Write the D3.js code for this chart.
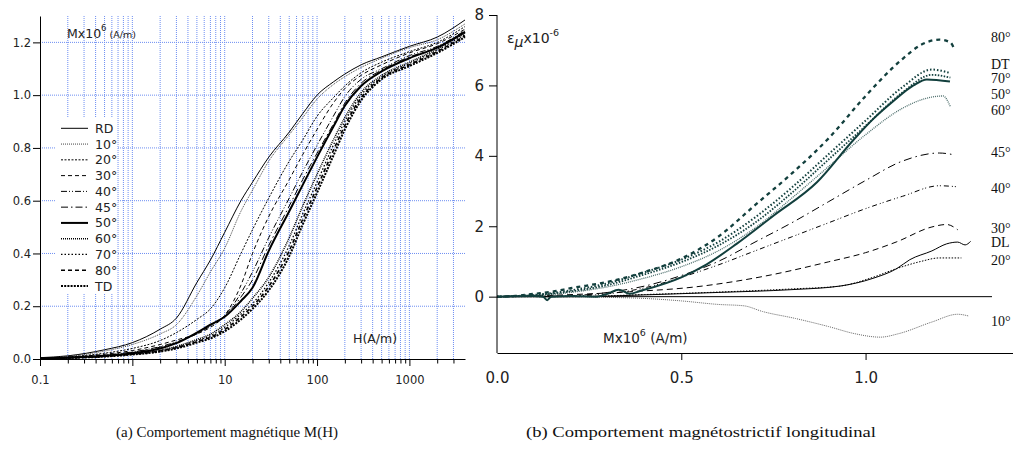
<!DOCTYPE html>
<html><head><meta charset="utf-8">
<script src="https://cdn.jsdelivr.net/npm/d3@7"></script>
<style>body{margin:0;background:#fff} svg{display:block}</style>
</head><body>
<svg id="c" width="1013" height="452"></svg>
<script>
// ---------- Left chart data: M (x10^6 A/m) vs H (A/m) ----------
const hGrid = [0.1,0.2,0.5,1,2,3,5,7,10,15,20,30,50,70,100,150,200,300,500,1000,2000,4000];
const mRD  = [0.005,0.012,0.035,0.062,0.113,0.155,0.29,0.375,0.48,0.6,0.67,0.765,0.86,0.93,1.0,1.05,1.08,1.115,1.145,1.185,1.22,1.285];
const m10  = [0.004,0.01,0.03,0.055,0.095,0.13,0.24,0.33,0.42,0.56,0.64,0.75,0.85,0.915,0.985,1.04,1.07,1.105,1.14,1.18,1.21,1.27];
const m20  = [0.003,0.008,0.022,0.04,0.07,0.1,0.15,0.19,0.27,0.4,0.49,0.61,0.75,0.83,0.92,0.99,1.035,1.085,1.125,1.165,1.2,1.26];
const m30  = [0.003,0.007,0.018,0.032,0.055,0.072,0.095,0.12,0.165,0.28,0.4,0.54,0.68,0.775,0.87,0.97,1.025,1.075,1.115,1.16,1.195,1.25];
const m40  = [0.003,0.006,0.015,0.027,0.047,0.065,0.095,0.125,0.165,0.25,0.33,0.46,0.61,0.71,0.81,0.92,0.995,1.06,1.1,1.15,1.185,1.245];
const m45  = [0.002,0.006,0.014,0.025,0.045,0.062,0.098,0.128,0.162,0.235,0.3,0.43,0.58,0.68,0.78,0.89,0.97,1.045,1.095,1.145,1.18,1.24];
const m50  = [0.002,0.005,0.012,0.022,0.04,0.06,0.1,0.13,0.16,0.22,0.27,0.41,0.56,0.66,0.765,0.88,0.96,1.035,1.09,1.14,1.18,1.24];
const m60  = [0.002,0.005,0.011,0.02,0.034,0.048,0.074,0.094,0.13,0.18,0.23,0.31,0.46,0.58,0.7,0.83,0.915,1.01,1.075,1.125,1.175,1.235];
const m70  = [0.002,0.004,0.01,0.019,0.032,0.045,0.07,0.088,0.12,0.17,0.21,0.29,0.43,0.55,0.67,0.81,0.9,1.0,1.07,1.12,1.17,1.23];
const m80  = [0.002,0.004,0.01,0.018,0.03,0.043,0.066,0.083,0.112,0.16,0.2,0.275,0.41,0.53,0.65,0.79,0.885,0.99,1.065,1.115,1.165,1.225];
const mTD  = [0.002,0.004,0.009,0.017,0.028,0.04,0.062,0.078,0.105,0.15,0.19,0.26,0.39,0.51,0.63,0.77,0.87,0.98,1.06,1.11,1.16,1.22];
const leftNames = ["RD","10°","20°","30°","40°","45°","50°","60°","70°","80°","TD"];
const leftSeries = [mRD,m10,m20,m30,m40,m45,m50,m60,m70,m80,mTD];
const leftYTicks = [0,0.2,0.4,0.6,0.8,1.0,1.2];
const leftXTicks = [0.1,1,10,100,1000];

// ---------- Right chart data: epsilon_mu (x10^-6) vs M (x10^6 A/m) ----------
const r80M = [0,0.05,0.1,0.15,0.2,0.3,0.4,0.5,0.6,0.7,0.8,0.9,1.0,1.1,1.15,1.2,1.23,1.24];
const r80E = [0,0.02,0.08,0.14,0.24,0.42,0.7,1.08,1.7,2.6,3.5,4.5,5.7,6.75,7.15,7.3,7.22,7.05];
const rDTM = [0,0.1,0.2,0.3,0.39,0.5,0.6,0.7,0.8,0.9,1.0,1.1,1.18,1.23];
const rDTE = [0,0.05,0.18,0.38,0.66,1.05,1.55,2.25,3.1,4.05,5.0,5.95,6.45,6.35];
const r70M = [0,0.1,0.2,0.3,0.39,0.5,0.6,0.7,0.8,0.9,1.0,1.1,1.18,1.23];
const r70E = [0,0.04,0.15,0.33,0.6,0.98,1.45,2.1,2.95,3.9,4.85,5.8,6.3,6.22];
const r50M = [0,0.1,0.125,0.136,0.147,0.2,0.27,0.3,0.33,0.36,0.388,0.5,0.569,0.65,0.75,0.868,0.967,1.021,1.075,1.13,1.166,1.229];
const r50E = [0,0.02,0,-0.1,0,0.02,0,0.08,0.2,0.08,0.16,0.55,0.92,1.5,2.3,3.25,4.45,5.05,5.55,6.0,6.17,6.11];
const r60M = [0,0.1,0.2,0.3,0.39,0.5,0.6,0.7,0.8,0.9,1.0,1.1,1.16,1.21,1.23];
const r60E = [0,0.03,0.12,0.28,0.5,0.85,1.3,1.95,2.8,3.7,4.6,5.35,5.62,5.7,5.4];
const r45M = [0,0.2,0.3,0.4,0.5,0.6,0.7,0.8,0.9,1.0,1.1,1.2,1.24];
const r45E = [0,0.03,0.12,0.3,0.6,1.0,1.55,2.1,2.7,3.3,3.85,4.08,4.03];
const r40M = [0,0.2,0.3,0.4,0.5,0.6,0.7,0.8,0.9,1.0,1.1,1.2,1.25];
const r40E = [0,0.02,0.08,0.25,0.55,0.9,1.3,1.7,2.1,2.5,2.85,3.15,3.12];
const r30M = [0,0.18,0.36,0.54,0.72,0.9,1.0,1.085,1.18,1.22,1.25];
const r30E = [0,0.05,0.14,0.28,0.57,0.99,1.25,1.56,1.98,2.05,1.9];
const rDLM = [0,0.2,0.4,0.6,0.8,0.93,1.02,1.085,1.12,1.18,1.22,1.25,1.27,1.285];
const rDLE = [0,0,0.05,0.12,0.2,0.3,0.52,0.8,1.05,1.3,1.5,1.55,1.47,1.57];
const r20M = [0,0.2,0.4,0.6,0.8,0.93,1.02,1.085,1.15,1.2,1.26];
const r20E = [0,0,0.06,0.13,0.22,0.3,0.55,0.8,1.0,1.1,1.1];
const r10M = [0,0.2,0.3,0.4,0.5,0.6,0.67,0.72,0.81,0.9,0.97,1.04,1.09,1.18,1.25,1.28];
const r10E = [0,0,-0.02,-0.05,-0.12,-0.22,-0.26,-0.42,-0.62,-0.85,-1.05,-1.15,-1.05,-0.72,-0.5,-0.55];
const rightLabels = ["80°","DT","70°","50°","60°","45°","40°","30°","DL","20°","10°"];
const rightLabelE = [7.36,6.57,6.18,5.72,5.28,4.07,3.07,1.91,1.52,1.01,-0.72];
const rightYTicks = [0,2,4,6,8];
const rightXTicks = [0,0.5,1.0];
const zeroLineEnd = 1.343;

const captions = ["(a) Comportement magnétique M(H)","(b) Comportement magnétostrictif longitudinal"];

// ---------- drawing ----------
const svg = d3.select("#c");
const SANS = "DejaVu Sans, Verdana, sans-serif";
const SERIF = "Liberation Serif, Times New Roman, serif";
const TEAL = "#123f3d";

// Left chart scales
const xL = d3.scaleLog().domain([0.1, 4000]).range([40, 465]);
const yL = d3.scaleLinear().domain([0, 1.3]).range([359, 16]);

const gL = svg.append("g");
// grid
const gridX = [];
[0.1,1,10,100,1000].forEach(d => { for (let k = 1; k <= 9; k++) { const v = d*k; if (v > 0.1 && v <= 3000.001) gridX.push(v); } });
const gridColor = "#6d8ef2";
gL.selectAll(".gv").data(gridX).join("line")
  .attr("x1", d => xL(d)).attr("x2", d => xL(d))
  .attr("y1", yL(1.3)).attr("y2", yL(0))
  .attr("stroke", gridColor).attr("stroke-width", 1).attr("stroke-dasharray", "1,1");
gL.selectAll(".gh").data(leftYTicks.filter(d => d > 0)).join("line")
  .attr("x1", xL(0.1)).attr("x2", xL(4000))
  .attr("y1", d => yL(d)).attr("y2", d => yL(d))
  .attr("stroke", gridColor).attr("stroke-width", 1).attr("stroke-dasharray", "1,1");

// curves
const leftStyles = [
  {w:1, d:null, c:"#000"},
  {w:1, d:"1,1", c:"#444"},
  {w:1, d:"2,1.5", c:"#000"},
  {w:1, d:"4,3", c:"#000"},
  {w:1, d:"6,2,1,2,1,2", c:"#000"},
  {w:1, d:"7,3,1.5,3", c:"#000"},
  {w:2, d:null, c:"#000"},
  {w:1.5, d:"1,1", c:"#000"},
  {w:1.3, d:"1.5,2", c:"#000"},
  {w:1.6, d:"4,3", c:"#000"},
  {w:2, d:"2,1.2", c:"#000"}
];
const lineL = d3.line().x(d => xL(d[0])).y(d => yL(d[1])).curve(d3.curveMonotoneX);
leftSeries.forEach((ms, i) => {
  const pts = hGrid.map((h, j) => [h, ms[j]]);
  const s = leftStyles[i];
  gL.append("path").attr("d", lineL(pts)).attr("fill", "none")
    .attr("stroke", s.c).attr("stroke-width", s.w)
    .attr("stroke-dasharray", s.d);
});

// legend
gL.append("rect").attr("x", 55).attr("y", 118).attr("width", 62).attr("height", 175).attr("fill", "#fff");
leftNames.forEach((n, i) => {
  const y = 128.3 + i*15.77;
  const s = leftStyles[i];
  gL.append("line").attr("x1", 61).attr("x2", 88).attr("y1", y).attr("y2", y)
    .attr("stroke", s.c).attr("stroke-width", s.w).attr("stroke-dasharray", s.d);
  gL.append("text").attr("x", 95).attr("y", y + 4.5).text(n)
    .attr("font-family", SANS).attr("font-size", 12.5).attr("fill", "#222");
});

// axes
const axL = gL.append("g").attr("transform", `translate(0,${yL(0)})`)
  .call(d3.axisBottom(xL).tickValues(leftXTicks).tickFormat(d3.format("~g")).tickSize(7).tickPadding(10).tickSizeOuter(0));
const axLm = gL.append("g").attr("transform", `translate(0,${yL(0)})`)
  .call(d3.axisBottom(xL).tickValues(gridX.filter(v => leftXTicks.indexOf(v) < 0)).tickFormat("").tickSize(4.5).tickSizeOuter(0));
axLm.select(".domain").remove();
const ayL = gL.append("g").attr("transform", `translate(${xL(0.1)},0)`)
  .call(d3.axisLeft(yL).tickValues(leftYTicks).tickFormat(d3.format(".1f")).tickSize(7).tickPadding(2).tickSizeOuter(0));
[axL, axLm, ayL].forEach(a => {
  a.selectAll("text").attr("font-family", SANS).attr("font-size", 11.5).attr("fill", "#222");
  a.selectAll("line,path").attr("stroke", "#000");
});

// left labels
const tM = gL.append("text").attr("x", 67).attr("y", 38).attr("font-family", SANS).attr("fill", "#222");
tM.append("tspan").attr("font-size", 12.5).text("Mx10");
tM.append("tspan").attr("font-size", 8.5).attr("dy", -7).text("6");
tM.append("tspan").attr("font-size", 9.5).attr("dy", 7).text(" (A/m)");
gL.append("text").attr("x", 353).attr("y", 343).attr("font-family", SANS).attr("font-size", 12.5).attr("fill", "#222").text("H(A/m)");

// Right chart
const xR = d3.scaleLinear().domain([0, 1.4]).range([497, 1013]);
const yR = d3.scaleLinear().domain([-1.6, 8]).range([353, 15]);
const gR = svg.append("g");

gR.append("line").attr("x1", xR(0)).attr("x2", xR(zeroLineEnd)).attr("y1", yR(0)).attr("y2", yR(0))
  .attr("stroke", "#000").attr("stroke-width", 1);

const lineR = d3.line().x(d => xR(d[0])).y(d => yR(d[1])).curve(d3.curveMonotoneX);
const rightSeries = [
  {m:r10M, e:r10E, c:"#666", w:1, d:"1,1"},
  {m:r20M, e:r20E, c:"#000", w:1, d:"1.5,1.5"},
  {m:rDLM, e:rDLE, c:"#000", w:1, d:null},
  {m:r30M, e:r30E, c:"#000", w:1, d:"6,4"},
  {m:r40M, e:r40E, c:"#000", w:1, d:"5,3,1,2,1,3"},
  {m:r45M, e:r45E, c:"#000", w:1, d:"8,4,1.5,4"},
  {m:r60M, e:r60E, c:"#4d6e6c", w:1.3, d:"1,1"},
  {m:r50M, e:r50E, c:TEAL, w:2, d:null},
  {m:r70M, e:r70E, c:TEAL, w:1.8, d:"1.5,1.5"},
  {m:rDTM, e:rDTE, c:TEAL, w:2, d:"1.5,2"},
  {m:r80M, e:r80E, c:TEAL, w:2.3, d:"4,4"}
];
rightSeries.forEach(s => {
  const pts = s.m.map((m, j) => [m, s.e[j]]);
  gR.append("path").attr("d", lineR(pts)).attr("fill", "none")
    .attr("stroke", s.c).attr("stroke-width", s.w).attr("stroke-dasharray", s.d);
});

const axR = gR.append("g").attr("transform", `translate(0,${yR(-1.6)})`)
  .call(d3.axisBottom(xR).tickValues(rightXTicks).tickFormat(d3.format(".1f")).tickSize(7).tickPadding(12).tickSizeOuter(0));
axR.selectAll(".tick").filter(d => d === 0).select("line").remove();
const ayR = gR.append("g").attr("transform", `translate(${xR(0)},0)`)
  .call(d3.axisLeft(yR).tickValues(rightYTicks).tickFormat(d3.format("d")).tickSize(8).tickPadding(5).tickSizeOuter(0));
ayR.select(".domain").attr("d", `M0,${yR(8)}V${yR(-1.6)}`);
[axR, ayR].forEach(a => {
  a.selectAll("text").attr("font-family", SANS).attr("font-size", 15).attr("fill", "#222");
  a.selectAll("line,path").attr("stroke", "#000");
});

// right axis labels
const tE = gR.append("text").attr("x", 507).attr("y", 43).attr("font-family", SANS).attr("fill", "#222");
tE.append("tspan").attr("font-size", 14).text("ε");
tE.append("tspan").attr("font-size", 14).attr("font-style", "italic").attr("dy", 4).text("μ");
tE.append("tspan").attr("font-size", 14).attr("dy", -4).text("x10");
tE.append("tspan").attr("font-size", 9.5).attr("dy", -7).text("-6");
const tM2 = gR.append("text").attr("x", 603).attr("y", 343).attr("font-family", SANS).attr("fill", "#222");
tM2.append("tspan").attr("font-size", 13.5).text("Mx10");
tM2.append("tspan").attr("font-size", 9.5).attr("dy", -7).text("6");
tM2.append("tspan").attr("font-size", 13.5).attr("dy", 7).text(" (A/m)");

// series labels on the right
rightLabels.forEach((t, i) => {
  gR.append("text").attr("x", 991).attr("y", yR(rightLabelE[i]) + 4)
    .attr("font-family", SERIF).attr("font-size", 14).attr("fill", "#111").text(t);
});

// captions
svg.append("text").attr("x", 116).attr("y", 437).attr("font-family", SERIF).attr("font-size", 15.5)
  .attr("textLength", 222).attr("lengthAdjust", "spacingAndGlyphs").attr("fill", "#111").text(captions[0]);
svg.append("text").attr("x", 526).attr("y", 437).attr("font-family", SERIF).attr("font-size", 15.5)
  .attr("textLength", 350).attr("lengthAdjust", "spacingAndGlyphs").attr("fill", "#111").text(captions[1]);
</script>
</body></html>
